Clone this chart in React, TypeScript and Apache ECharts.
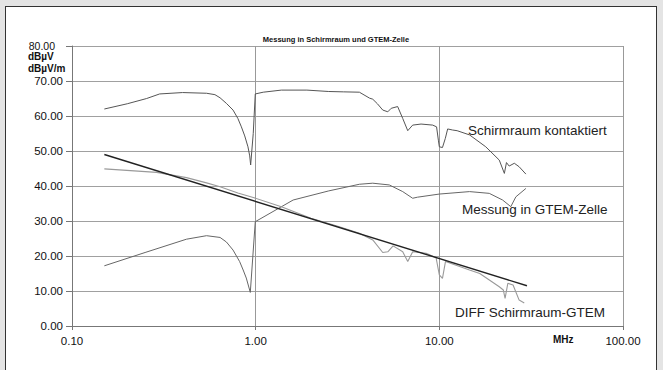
import React, { useEffect, useRef } from "react";
import * as echarts from "echarts";

// Frequencies in MHz, levels in dBµV / dBµV/m
const schirmFreq = [0.15, 0.2, 0.255, 0.3, 0.4, 0.54, 0.6, 0.64, 0.693, 0.753, 0.8, 0.836, 0.872, 0.908, 0.928, 0.939, 0.97, 0.995, 1.1, 1.38, 1.9, 2.5, 3.0, 3.67, 4.17, 4.34, 4.6, 4.92, 5.24, 5.47, 5.93, 6.32, 6.73, 7.16, 7.95, 9.2, 9.66, 9.88, 10.0, 10.4, 10.78, 11.1, 11.8, 12.5, 14.6, 17.9, 21.2, 22.6, 23.2, 24.0, 25.6, 27.2, 29.6];
const schirmVal = [62.0, 63.5, 65.0, 66.3, 66.7, 66.5, 66.1, 65.2, 63.6, 61.7, 59.3, 56.9, 54.3, 51.2, 48.6, 46.0, 55.0, 66.3, 66.8, 67.4, 67.4, 67.0, 66.9, 66.8, 65.1, 64.8, 63.5, 61.7, 61.2, 62.2, 62.7, 59.3, 55.8, 57.4, 57.7, 57.4, 56.9, 53.1, 51.2, 51.0, 53.6, 56.3, 56.0, 55.8, 54.6, 51.2, 47.4, 43.6, 46.7, 45.7, 46.5, 45.5, 43.4];

const gtemFreq = [0.15, 0.25, 0.42, 0.54, 0.64, 0.693, 0.753, 0.818, 0.855, 0.889, 0.935, 0.995, 1.6, 2.5, 3.67, 4.34, 5.34, 6.32, 7.16, 7.6, 10.0, 14.6, 18.7, 22.1, 24.5, 26.1, 29.6];
const gtemVal = [17.2, 21.0, 24.8, 25.8, 25.3, 24.0, 21.7, 18.4, 16.0, 13.7, 9.6, 29.8, 36.0, 38.6, 40.5, 40.8, 40.3, 38.4, 36.5, 36.8, 37.7, 38.4, 37.9, 36.0, 34.1, 36.9, 39.3];

const diffFreq = [0.15, 0.289, 0.42, 0.54, 0.64, 0.8, 0.97, 1.38, 2.0, 2.8, 3.67, 4.34, 4.92, 5.24, 5.6, 6.32, 6.73, 7.16, 8.48, 9.6, 10.0, 10.4, 10.8, 14.6, 16.6, 21.2, 22.3, 22.8, 23.6, 25.2, 27.2, 29.0];
const diffVal = [44.9, 43.9, 42.4, 40.9, 39.8, 38.0, 36.7, 34.1, 30.8, 28.5, 26.5, 24.6, 21.0, 21.2, 22.9, 21.2, 18.4, 21.2, 20.8, 19.5, 14.6, 13.6, 18.4, 16.0, 15.0, 11.2, 10.3, 7.9, 12.2, 11.7, 7.4, 6.6];

const trendFreq = [0.15, 30];
const trendVal = [49.0, 11.5];

const title = "Messung in Schirmraum und GTEM-Zelle";
const seriesLabels = ["Schirmraum kontaktiert", "Messung in GTEM-Zelle", "DIFF Schirmraum-GTEM"];

const FONT = 'Arial, "Liberation Sans", sans-serif';

const pairs = (f: number[], v: number[]) => f.map((x, i) => [x, v[i]]);

export default function App() {
  const ref = useRef<HTMLDivElement>(null);
  useEffect(() => {
    document.body.style.margin = "0";
    if (!ref.current) return;
    const chart = echarts.init(ref.current, null, { renderer: "svg" });
    const lineSeries = (name: string, f: number[], v: number[], color: string, width: number) => ({
      name,
      type: "line",
      data: pairs(f, v),
      showSymbol: false,
      symbol: "none",
      lineStyle: { color, width },
      z: 3,
    });
    chart.setOption({
      animation: false,
      textStyle: { fontFamily: FONT },
      title: {
        text: title,
        left: 331,
        top: 30,
        textAlign: "center",
        textStyle: { fontSize: 7.5, fontWeight: "bold", color: "#111", fontFamily: FONT },
      },
      grid: { left: 72, right: 40, top: 46, bottom: 44, containLabel: false },
      xAxis: {
        type: "log",
        logBase: 10,
        min: 0.1,
        max: 100,
        axisLine: { show: true, lineStyle: { color: "#777", width: 1 } },
        axisTick: { show: true, length: 4, lineStyle: { color: "#777" } },
        splitLine: { show: true, lineStyle: { color: "#999", width: 1 } },
        minorTick: { show: false },
        axisLabel: {
          formatter: (v: number) => Number(v).toFixed(2),
          fontSize: 11.5,
          color: "#111",
          margin: 9,
          fontFamily: FONT,
        },
      },
      yAxis: {
        type: "value",
        min: 0,
        max: 80,
        interval: 10,
        axisLine: { show: true, lineStyle: { color: "#777", width: 1 } },
        axisTick: { show: true, length: 6, lineStyle: { color: "#777" } },
        splitLine: { show: true, lineStyle: { color: "#a0a0a0", width: 1 } },
        axisLabel: {
          fontSize: 11.5,
          color: "#111",
          margin: 9,
          fontFamily: FONT,
          formatter: (v: number) => (v === 80 ? "{top|" + v.toFixed(2) + "}" : v.toFixed(2)),
          rich: { top: { fontSize: 10.5, color: "#111", padding: [0, 8, 0, 0], fontFamily: FONT } },
        },
      },
      series: [
        lineSeries(seriesLabels[0], schirmFreq, schirmVal, "#555", 1),
        lineSeries(seriesLabels[1], gtemFreq, gtemVal, "#666", 1),
        lineSeries(seriesLabels[2], diffFreq, diffVal, "#9a9a9a", 1.1),
        lineSeries("Trend", trendFreq, trendVal, "#222", 1.4),
      ],
      graphic: [
        { type: "text", left: 28, top: 51, style: { text: "dBµV", fill: "#111", font: "bold 10px " + FONT } },
        { type: "text", left: 28, top: 63, style: { text: "dBµV/m", fill: "#111", font: "bold 10px " + FONT } },
        { type: "text", left: 553, top: 334, style: { text: "MHz", fill: "#111", font: "bold 10px " + FONT } },
        { type: "text", left: 468, top: 123, style: { text: seriesLabels[0], fill: "#222", font: "13.5px " + FONT } },
        { type: "text", left: 462, top: 202, style: { text: seriesLabels[1], fill: "#222", font: "13.5px " + FONT } },
        { type: "text", left: 455, top: 305, style: { text: seriesLabels[2], fill: "#222", font: "13.5px " + FONT } },
      ],
    });
    return () => chart.dispose();
  }, []);
  return (
    <div style={{ position: "relative", width: 663, height: 370, background: "#e4e4e4", overflow: "hidden" }}>
      <div
        style={{
          position: "absolute",
          left: 5,
          top: 6,
          width: 652,
          height: 380,
          background: "#fff",
          border: "1px solid #333",
          boxSizing: "border-box",
        }}
      />
      <div ref={ref} style={{ position: "absolute", left: 0, top: 0, width: 663, height: 370 }} />
    </div>
  );
}
